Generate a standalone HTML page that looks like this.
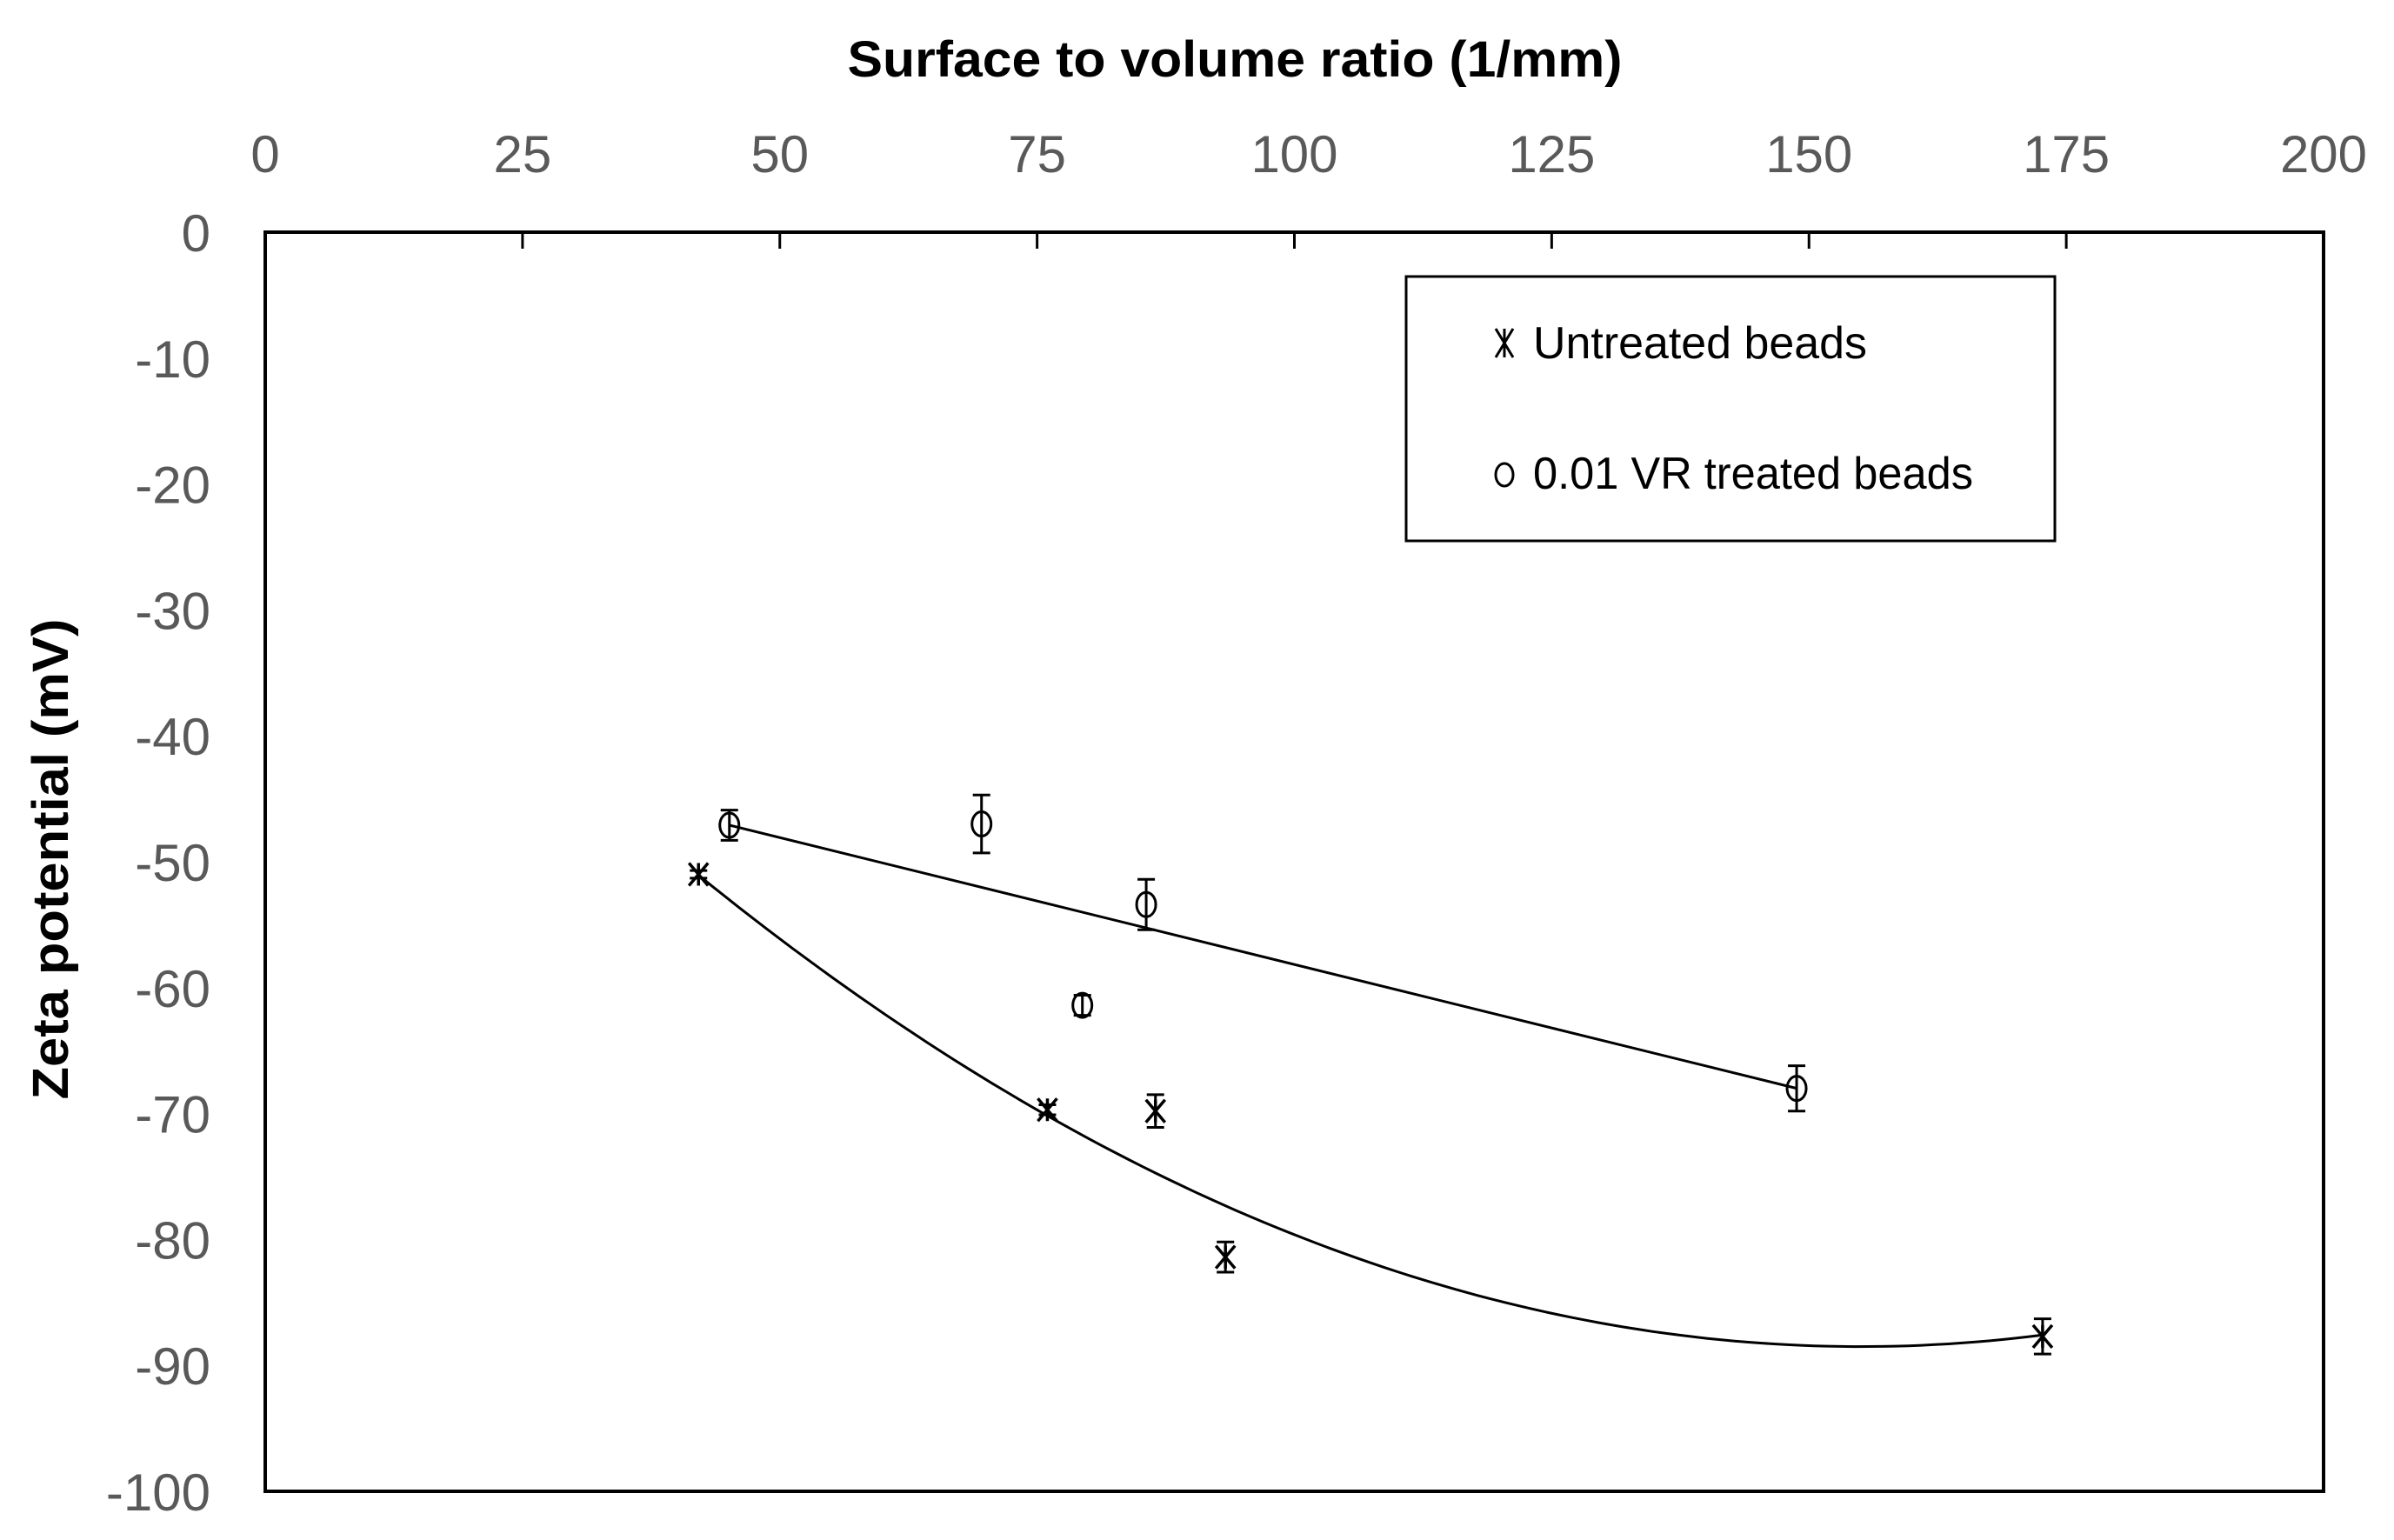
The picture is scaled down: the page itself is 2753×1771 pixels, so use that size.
<!DOCTYPE html>
<html><head><meta charset="utf-8"><style>
html,body{margin:0;padding:0;background:#fff;}
svg{display:block;}
text{font-family:"Liberation Sans",sans-serif;}
</style></head><body>
<svg id="chart" width="2753" height="1771" viewBox="0 0 2753 1771" xmlns="http://www.w3.org/2000/svg">
<rect width="2753" height="1771" fill="#fff"/>
<g id="axes"></g>
<g id="series"></g>
<rect x="305" y="267" width="2367" height="1448" fill="none" stroke="#000" stroke-width="4"/>
<text x="1420" y="88" text-anchor="middle" font-size="58" font-weight="bold" textLength="891" lengthAdjust="spacingAndGlyphs">Surface to volume ratio (1/mm)</text>
<text transform="translate(78,988) rotate(-90)" text-anchor="middle" font-size="58" font-weight="bold" textLength="553" lengthAdjust="spacingAndGlyphs">Zeta potential (mV)</text>
<g>
<rect x="1617" y="318" width="746" height="304" fill="#fff" stroke="#000" stroke-width="3"/>
<g stroke="#000" stroke-width="3">
<line x1="1720" y1="378" x2="1740" y2="411"/><line x1="1740" y1="378" x2="1720" y2="411"/><line x1="1730" y1="378" x2="1730" y2="411"/></g>
<text x="1763" y="412" font-size="52" textLength="384" lengthAdjust="spacingAndGlyphs">Untreated beads</text>
<ellipse cx="1730" cy="546" rx="10" ry="13" fill="none" stroke="#000" stroke-width="3"/>
<text x="1763" y="562" font-size="52" textLength="506" lengthAdjust="spacingAndGlyphs">0.01 VR treated beads</text>
</g>
</svg>
<script>
const xTicks=[0,25,50,75,100,125,150,175,200];
const yTicks=[0,-10,-20,-30,-40,-50,-60,-70,-80,-90,-100];
const untreatedX=[42.1,76.0,86.5,93.3,172.7];
const untreatedY=[-51.0,-69.7,-69.8,-81.4,-87.7];
const untreatedErr=[0.3,0.4,1.3,1.2,1.4];
const treatedX=[45.1,69.6,85.6,79.4,148.8];
const treatedY=[-47.1,-47.0,-53.4,-61.4,-68.0];
const treatedErr=[1.2,2.3,2.0,0.8,1.8];
const untreatedFit=[0.002937,-0.9105,-17.94];
const treatedFit=[-0.2016,-38.0];
const X0=305,X1=2672,Y0=267,Y1=1715;
const sx=v=>X0+(v-0)/(200-0)*(X1-X0);
const sy=v=>Y0+(0-v)/(0-(-100))*(Y1-Y0);
const NS='http://www.w3.org/2000/svg';
const axes=document.getElementById('axes'),series=document.getElementById('series');
function mk(tag,attrs,parent){const e=document.createElementNS(NS,tag);for(const k in attrs)e.setAttribute(k,attrs[k]);parent.appendChild(e);return e;}
xTicks.forEach(t=>{
  const l=mk('line',{x1:sx(t),x2:sx(t),y1:Y0,y2:Y0+19,stroke:'#000','stroke-width':3},axes);
  
  
  const tx=mk('text',{x:sx(t),y:198,'text-anchor':'middle','font-size':60,fill:'#595959'},axes);
  
  
  tx.textContent=t;
});
yTicks.forEach(t=>{
  const tx=mk('text',{x:242,y:sy(t)+22,'text-anchor':'end','font-size':60,fill:'#595959'},axes);
  
  
  tx.textContent=t;
});
// trendlines
let d='';
for(let i=0;i<=100;i++){const x=untreatedX[0]+(untreatedX[4]-untreatedX[0])*i/100;const y=untreatedFit[0]*x*x+untreatedFit[1]*x+untreatedFit[2];d+=(i?'L':'M')+sx(x).toFixed(1)+','+sy(y).toFixed(1);}
const p1=mk('path',{d:d,fill:'none',stroke:'#000','stroke-width':3},series);


const tx0=treatedX[0],tx1=treatedX[4];
const p2=mk('line',{x1:sx(tx0),y1:sy(treatedFit[0]*tx0+treatedFit[1]),x2:sx(tx1),y2:sy(treatedFit[0]*tx1+treatedFit[1]),stroke:'#000','stroke-width':3},series);


function errBar(x,y,e){
  const g=mk('g',{stroke:'#000','stroke-width':3},series);
  
  
  const cx=sx(x),ya=sy(y+e),yb=sy(y-e);
  mk('line',{x1:cx,x2:cx,y1:ya,y2:yb},g);
  mk('line',{x1:cx-10,x2:cx+10,y1:ya,y2:ya},g);
  mk('line',{x1:cx-10,x2:cx+10,y1:yb,y2:yb},g);
}
treatedX.forEach((x,i)=>{
  errBar(x,treatedY[i],treatedErr[i]);
  const c=mk('ellipse',{cx:sx(x),cy:sy(treatedY[i]),rx:11,ry:14,fill:'none',stroke:'#000','stroke-width':3},series);
  
  
});
untreatedX.forEach((x,i)=>{
  errBar(x,untreatedY[i],untreatedErr[i]);
  const cx=sx(x),cy=sy(untreatedY[i]);
  const g=mk('g',{stroke:'#000','stroke-width':3.5},series);
  
  
  mk('line',{x1:cx-11,y1:cy-13,x2:cx+11,y2:cy+13},g);
  mk('line',{x1:cx+11,y1:cy-13,x2:cx-11,y2:cy+13},g);
  mk('line',{x1:cx,y1:cy-13,x2:cx,y2:cy+13},g);
});
</script>
</body></html>
